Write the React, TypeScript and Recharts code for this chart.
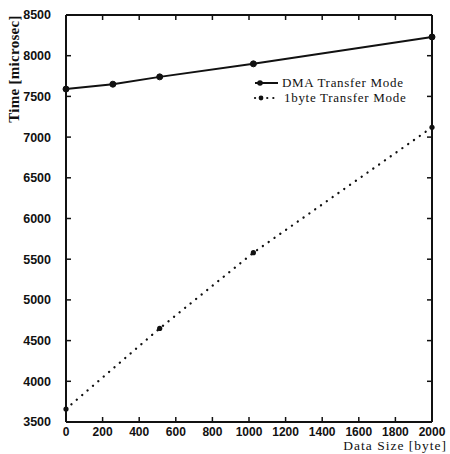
import { LineChart, Line, XAxis, YAxis, Legend } from "recharts";

// transfer time vs. payload size, two transfer modes
const dataSizes = [0, 256, 512, 1024, 2000];
const dmaTimes = [7590, 7650, 7740, 7900, 8230];
const byteTimes: (number | null)[] = [3660, null, 4650, 5580, 7120];

const xTicks = [0, 200, 400, 600, 800, 1000, 1200, 1400, 1600, 1800, 2000];
const yTicks = [3500, 4000, 4500, 5000, 5500, 6000, 6500, 7000, 7500, 8000, 8500];

const seriesNames = ["DMA Transfer Mode", "1byte Transfer Mode"];

const data = dataSizes.map((x, i) => ({ x, dma: dmaTimes[i], byte: byteTimes[i] }));

const sans = "'Liberation Sans', Arial, sans-serif";
const serif = "'Liberation Serif', 'Times New Roman', serif";
const xTickFont = { fontSize: 12, fontFamily: sans, fontWeight: 700, fill: "#111" };
const yTickFont = { fontSize: 12.5, fontFamily: sans, fontWeight: 700, fill: "#111" };
const blank = () => "";
const frame = { stroke: "#111", strokeWidth: 2 };
const tickMark = { stroke: "#111", strokeWidth: 1.5 };

function LegendBox() {
  return (
    <svg width={180} height={34}>
      <line x1={3} y1={9} x2={26} y2={9} stroke="#111" strokeWidth={2} />
      <circle cx={8} cy={9} r={2.8} fill="#111" />
      <text x={30} y={13} fontFamily={serif} fontSize={13} fill="#111" letterSpacing={0.7}>
        {seriesNames[0]}
      </text>
      <line x1={3} y1={24} x2={24} y2={24} stroke="#111" strokeWidth={2.2} strokeDasharray="0.1 6" strokeLinecap="round" />
      <circle cx={9} cy={24} r={2.4} fill="#111" />
      <text x={32} y={28} fontFamily={serif} fontSize={13} fill="#111" letterSpacing={0.7}>
        {seriesNames[1]}
      </text>
    </svg>
  );
}

export default function App() {
  return (
    <div style={{ position: "absolute", left: 0, top: 0, background: "#fff" }}>
      <LineChart width={450} height={454} data={data} margin={{ top: 15, right: 18, left: 0, bottom: 0 }}>
        {/* negative tickSize turns the tick marks inward */}
        <XAxis
          xAxisId="b"
          dataKey="x"
          type="number"
          domain={[0, 2000]}
          ticks={xTicks}
          height={32}
          tickSize={-5}
          tickMargin={10}
          tickLine={tickMark}
          axisLine={frame}
          tick={xTickFont}
          interval={0}
          label={() => (
            <text x={447} y={450} textAnchor="end" fontFamily={serif} fontSize={13.5} fill="#111" letterSpacing={1}>
              Data Size [byte]
            </text>
          )}
        />
        {/* mirrored top and right axes close the frame, ticks pointing in */}
        <XAxis
          xAxisId="t"
          dataKey="x"
          type="number"
          orientation="top"
          mirror
          domain={[0, 2000]}
          ticks={xTicks}
          tickFormatter={blank}
          tickSize={5}
          tickLine={tickMark}
          axisLine={frame}
          interval={0}
        />
        <YAxis
          yAxisId="l"
          type="number"
          domain={[3500, 8500]}
          ticks={yTicks}
          width={66}
          tickSize={-5}
          tickMargin={20}
          tickLine={tickMark}
          axisLine={frame}
          tick={yTickFont}
          interval={0}
          label={() => (
            <text
              transform="translate(19, 69) rotate(-90)"
              textAnchor="middle"
              fontFamily={serif}
              fontSize={15}
              fontWeight={700}
              fill="#111"
              letterSpacing={0.3}
            >
              Time [microsec]
            </text>
          )}
        />
        <YAxis
          yAxisId="r"
          type="number"
          orientation="right"
          mirror
          domain={[3500, 8500]}
          ticks={yTicks}
          tickFormatter={blank}
          tickSize={5}
          tickLine={tickMark}
          axisLine={frame}
          interval={0}
        />
        <Legend
          layout="horizontal"
          verticalAlign="middle"
          align="center"
          wrapperStyle={{ top: 74, left: 252, width: 180, height: 34 }}
          content={() => <LegendBox />}
        />
        <Line
          xAxisId="t"
          yAxisId="l"
          dataKey="dma"
          name={seriesNames[0]}
          stroke="#111"
          strokeWidth={2}
          dot={{ r: 3, fill: "#111", stroke: "#111", strokeWidth: 1 }}
          isAnimationActive={false}
        />
        <Line
          xAxisId="b"
          yAxisId="r"
          dataKey="byte"
          name={seriesNames[1]}
          stroke="#111"
          strokeWidth={2.3}
          strokeDasharray="0.1 7"
          strokeLinecap="round"
          connectNulls
          dot={{ r: 2.6, fill: "#111", stroke: "none" }}
          isAnimationActive={false}
        />
      </LineChart>
    </div>
  );
}
